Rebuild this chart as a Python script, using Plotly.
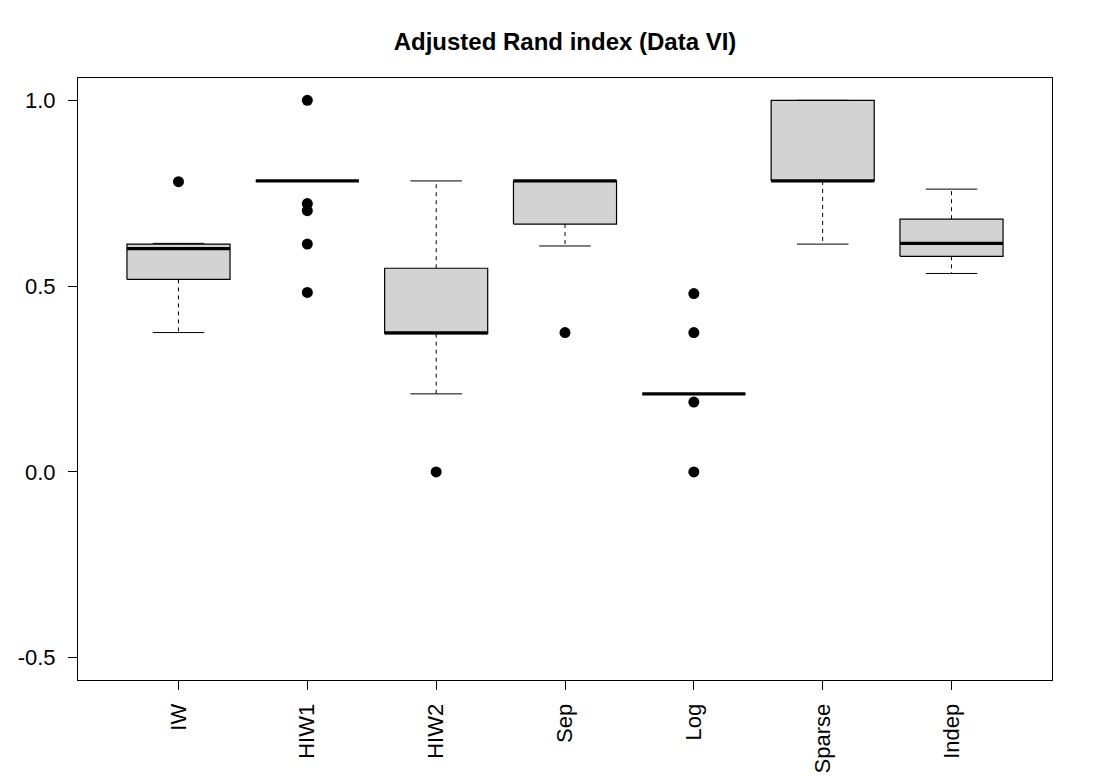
import plotly.graph_objects as go

categories = ["IW", "HIW1", "HIW2", "Sep", "Log", "Sparse", "Indep"]
lower_whisker = [0.375, 0.783, 0.210, 0.608, 0.210, 0.613, 0.534]
q1 = [0.518, 0.783, 0.372, 0.667, 0.210, 0.783, 0.580]
median = [0.601, 0.783, 0.374, 0.783, 0.210, 0.783, 0.615]
q3 = [0.613, 0.783, 0.548, 0.783, 0.210, 1.000, 0.680]
upper_whisker = [0.615, 0.783, 0.783, 0.783, 0.210, 1.000, 0.761]
outliers = [
    [0.781],
    [1.0, 0.722, 0.703, 0.613, 0.483],
    [0.0],
    [0.375],
    [0.480, 0.375, 0.188, 0.0],
    [],
    [],
]

BOXW = 0.4     # half box width (R boxwex 0.8)
STAPW = 0.2    # half staple width

xs = list(range(1, len(categories) + 1))

fig = go.Figure()

# whiskers (dashed)
wx, wy = [], []
for x, lo, a, b, hi in zip(xs, lower_whisker, q1, q3, upper_whisker):
    if hi > b:
        wx += [x, x, None]; wy += [b, hi, None]
    if lo < a:
        wx += [x, x, None]; wy += [a, lo, None]
fig.add_trace(go.Scatter(x=wx, y=wy, mode="lines",
                         line=dict(color="black", width=1, dash="4px,4px"),
                         hoverinfo="skip", showlegend=False))

# staples
sx, sy = [], []
for x, lo, hi in zip(xs, lower_whisker, upper_whisker):
    sx += [x - STAPW, x + STAPW, None, x - STAPW, x + STAPW, None]
    sy += [lo, lo, None, hi, hi, None]
fig.add_trace(go.Scatter(x=sx, y=sy, mode="lines",
                         line=dict(color="black", width=1),
                         hoverinfo="skip", showlegend=False))

# boxes
for x, a, b in zip(xs, q1, q3):
    fig.add_trace(go.Scatter(
        x=[x - BOXW, x + BOXW, x + BOXW, x - BOXW, x - BOXW],
        y=[a, a, b, b, a], mode="lines", fill="toself",
        fillcolor="#d3d3d3", line=dict(color="black", width=1.2),
        hoverinfo="skip", showlegend=False))

# medians
mx, my = [], []
for x, m in zip(xs, median):
    mx += [x - BOXW, x + BOXW, None]
    my += [m, m, None]
fig.add_trace(go.Scatter(x=mx, y=my, mode="lines",
                         line=dict(color="black", width=3.2),
                         hoverinfo="skip", showlegend=False))

# outliers
ox, oy = [], []
for x, outs in zip(xs, outliers):
    for v in outs:
        ox.append(x); oy.append(v)
fig.add_trace(go.Scatter(x=ox, y=oy, mode="markers",
                         marker=dict(color="black", size=11, line=dict(width=0)),
                         showlegend=False))

font = dict(family="Liberation Sans, Arial, sans-serif", color="black")

W, H = 1085, 769
fig.update_layout(
    width=W, height=H,
    margin=dict(l=70, r=41, t=70, b=97, autoexpand=False),
    paper_bgcolor="white", plot_bgcolor="white",
    font=dict(**font, size=22),
    title=dict(text="<b>Adjusted Rand index (Data VI)</b>",
               x=(70 + 1044) / 2 / W, xanchor="center",
               y=1 - 34 / H, yanchor="middle", yref="container",
               font=dict(**font, size=24)),
    showlegend=False,
)
fig.update_xaxes(range=[0.22, 7.78], tickvals=xs, ticktext=categories,
                 tickangle=-90, ticks="outside", ticklen=9, tickwidth=1,
                 tickcolor="black", showline=True, linecolor="black",
                 linewidth=1, mirror=True, showgrid=False, zeroline=False,
                 ticklabelstandoff=5, automargin=False,
                 tickfont=dict(**font, size=22))
fig.update_yaxes(range=[-0.56, 1.06], tickvals=[-0.5, 0.0, 0.5, 1.0],
                 ticktext=["-0.5", "0.0", "0.5", "1.0"],
                 ticks="outside", ticklen=9, tickwidth=1, tickcolor="black",
                 showline=True, linecolor="black", linewidth=1, mirror=True,
                 showgrid=False, zeroline=False,
                 ticklabelstandoff=8, automargin=False,
                 tickfont=dict(**font, size=22))

fig.write_html("out.html")
